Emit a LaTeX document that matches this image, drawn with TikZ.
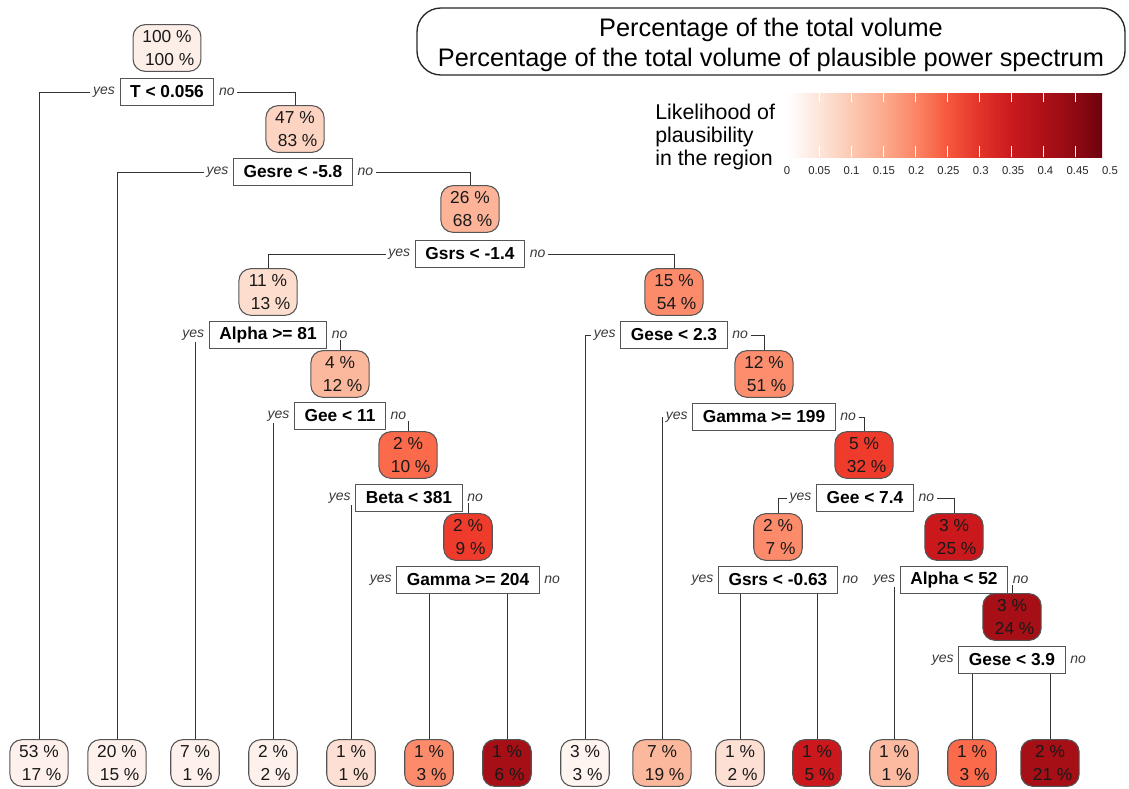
\documentclass[tikz,border=0pt]{standalone}
\usepackage{fontspec}
\setmainfont{Liberation Sans}
\usetikzlibrary{backgrounds}

% node fill colours (Reds scale)
\definecolor{rootc}{HTML}{FDEEE8}
\definecolor{nA}{HTML}{FCD4C1}
\definecolor{nB}{HTML}{FCB398}
\definecolor{nC}{HTML}{FDDDCD}
\definecolor{nD}{HTML}{FCB89C}
\definecolor{nE}{HTML}{FB6A4A}
\definecolor{nF}{HTML}{EF3B2C}
\definecolor{nG}{HTML}{FC8B6B}
\definecolor{nH}{HTML}{FC8D6D}
\definecolor{nI}{HTML}{CB181D}
\definecolor{nJ}{HTML}{A50F15}
\definecolor{lpale}{HTML}{FEF1EB}
\definecolor{lwhite}{HTML}{FFF5F0}
\definecolor{llight}{HTML}{FDE0D3}
\definecolor{lmid}{HTML}{FCBBA1}
\definecolor{edge}{HTML}{555555}
\definecolor{labgray}{HTML}{3A3A3A}

% colour scale of the legend bar
\definecolor{s0}{HTML}{FFFFFF}
\definecolor{s1}{HTML}{FDE5DA}
\definecolor{s2}{HTML}{FCC9B2}
\definecolor{s3}{HTML}{FCAA8D}
\definecolor{s4}{HTML}{FB8666}
\definecolor{s5}{HTML}{F6583E}
\definecolor{s6}{HTML}{E3342A}
\definecolor{s7}{HTML}{CB1A1E}
\definecolor{s8}{HTML}{AE1117}
\definecolor{s9}{HTML}{8F0A13}
\definecolor{s10}{HTML}{6D010E}
\pgfdeclarehorizontalshading{legendbar}{100bp}{%
  color(0bp)=(s0); color(26.2bp)=(s0); color(31.2bp)=(s1); color(36.1bp)=(s2);
  color(41.1bp)=(s3); color(46.1bp)=(s4); color(51bp)=(s5); color(56bp)=(s6);
  color(60.9bp)=(s7); color(65.9bp)=(s8); color(70.8bp)=(s9); color(75bp)=(s10);
  color(100bp)=(s10)}

\newcommand{\twopct}[2]{#1 \%\\\hspace*{2pt}#2 \%\hspace*{-2pt}}

\tikzset{
  tnode/.style={draw=edge, line width=0.8pt, fill=#1, rounded corners=9pt,
    align=center, font=\fontsize{13}{17}\selectfont, inner xsep=7pt,
    inner ysep=2pt, minimum height=35pt, text=black!90},
  splitbox/.style={draw=edge, line width=0.8pt, fill=white,
    font=\fontsize{13}{15}\selectfont\bfseries, inner xsep=7.5pt,
    inner ysep=2pt, minimum height=20pt},
  yeslab/.style={font=\fontsize{10.5}{12}\selectfont\itshape, text=labgray,
    fill=white, inner xsep=1.8pt, inner ysep=1pt, anchor=east},
  nolab/.style={font=\fontsize{10.5}{12}\selectfont\itshape, text=labgray,
    fill=white, inner xsep=1.8pt, inner ysep=1pt, anchor=west},
  branch/.style={draw=black!80, line width=0.75pt},
}

\begin{document}
\begin{tikzpicture}[x=0.75pt, y=-0.75pt]
\useasboundingbox (0,0) rectangle (1129,789);

% ---- internal nodes and splits ----
\node[tnode=rootc] (n1) at (167,48) {\twopct{100}{100}};
\node[splitbox] (s1) at (167,92) {T < 0.056};
\node[tnode=nA] (n2) at (295,129) {\twopct{47}{83}};
\node[splitbox] (s2) at (293,172) {Gesre < -5.8};
\node[tnode=nB] (n3) at (470,209) {\twopct{26}{68}};
\node[splitbox] (s3) at (470,254) {Gsrs < -1.4};
\node[tnode=nC] (n4) at (268,292) {\twopct{11}{13}};
\node[splitbox] (s4) at (268,335) {Alpha >= 81};
\node[tnode=nD] (n5) at (340,374) {\twopct{4}{12}};
\node[splitbox] (s5) at (340,416) {Gee < 11};
\node[tnode=nE] (n6) at (408,455) {\twopct{2}{10}};
\node[splitbox] (s6) at (409,498) {Beta < 381};
\node[tnode=nF] (n7) at (468,537) {\twopct{2}{9}};
\node[splitbox] (s7) at (468,580) {Gamma >= 204};
\node[tnode=nG] (n8) at (674,292) {\twopct{15}{54}};
\node[splitbox] (s8) at (674,335) {Gese < 2.3};
\node[tnode=nH] (n9) at (764,374) {\twopct{12}{51}};
\node[splitbox] (s9) at (764,417) {Gamma >= 199};
\node[tnode=nF] (n10) at (864,455) {\twopct{5}{32}};
\node[splitbox] (s10) at (865,498) {Gee < 7.4};
\node[tnode=nG] (n11) at (778,537) {\twopct{2}{7}};
\node[splitbox] (s11) at (778,580) {Gsrs < -0.63};
\node[tnode=nI] (n12) at (954,537) {\twopct{3}{25}};
\node[splitbox] (s12) at (954,580) {Alpha < 52};
\node[tnode=nJ] (n13) at (1012,617) {\twopct{3}{24}};
\node[splitbox] (s13) at (1012,660) {Gese < 3.9};

% ---- leaves ----
\node[tnode=lpale]  (L1)  at (39,763)   {\twopct{53}{17}};
\node[tnode=lpale]  (L2)  at (117,763)  {\twopct{20}{15}};
\node[tnode=lpale]  (L3)  at (195,763)  {\twopct{7}{1}};
\node[tnode=lpale]  (L4)  at (273,763)  {\twopct{2}{2}};
\node[tnode=llight] (L5)  at (351,763)  {\twopct{1}{1}};
\node[tnode=nG]     (L6)  at (429,763)  {\twopct{1}{3}};
\node[tnode=nJ]     (L7)  at (507,763)  {\twopct{1}{6}};
\node[tnode=lwhite] (L8)  at (585,763)  {\twopct{3}{3}};
\node[tnode=nD]     (L9)  at (662,763)  {\twopct{7}{19}};
\node[tnode=llight] (L10) at (740,763)  {\twopct{1}{2}};
\node[tnode=nI]     (L11) at (817,763)  {\twopct{1}{5}};
\node[tnode=lmid]   (L12) at (894,763)  {\twopct{1}{1}};
\node[tnode=nE]     (L13) at (972,763)  {\twopct{1}{3}};
\node[tnode=nJ]     (L14) at (1050,763) {\twopct{2}{21}};

% ---- yes / no labels ----
\foreach \s in {1,...,13}{
  \node[yeslab] (y\s) at ([xshift=-1.5pt]s\s.west) {yes};
  \node[nolab]  (o\s) at ([xshift=1.5pt]s\s.east) {no};
}

% ---- branches ----
\begin{scope}[on background layer]
  % branches that run sideways before dropping
  \draw[branch] (y1.west) -| (L1.north);
  \draw[branch] (o1.east) -| (n2.north);
  \draw[branch] (y2.west) -| (L2.north);
  \draw[branch] (o2.east) -| (n3.north);
  \draw[branch] (y3.west) -| (n4.north);
  \draw[branch] (o3.east) -| (n8.north);
  \draw[branch] (y8.west) -| (L8.north);
  \draw[branch] (o8.east) -| (n9.north);
  \draw[branch] (y9.west) -| (L9.north);
  \draw[branch] (o9.east) -| (n10.north);
  \draw[branch] (y10.west) -| (n11.north);
  \draw[branch] (o10.east) -| (n12.north);
  % branches dropping straight from a label
  \draw[branch] (y4.south -| L3.north) -- (L3.north);
  \draw[branch] (o4.south -| n5.north) -- (n5.north);
  \draw[branch] (y5.south -| L4.north) -- (L4.north);
  \draw[branch] (o5.south -| n6.north) -- (n6.north);
  \draw[branch] (y6.south -| L5.north) -- (L5.north);
  \draw[branch] (o6.south -| n7.north) -- (n7.north);
  \draw[branch] (y12.south -| L12.north) -- (L12.north);
  \draw[branch] (o12.south -| n13.north) -- (n13.north);
  % branches dropping straight from a split box
  \draw[branch] (s7.south -| L6.north) -- (L6.north);
  \draw[branch] (s7.south -| L7.north) -- (L7.north);
  \draw[branch] (s11.south -| L10.north) -- (L10.north);
  \draw[branch] (s11.south -| L11.north) -- (L11.north);
  \draw[branch] (s13.south -| L13.north) -- (L13.north);
  \draw[branch] (s13.south -| L14.north) -- (L14.north);
\end{scope}

% ---- title box ----
\node[draw=black!85, line width=1pt, rounded corners=18pt,
  minimum width=531pt, minimum height=50.25pt] (title) at (771,41.5) {};
\node[font=\fontsize{19}{22.5}\selectfont, align=center, inner sep=0pt]
  (titletext) at (771,45)
  {Percentage of the total volume\\Percentage of the total volume of plausible power spectrum};

% ---- legend ----
\node[anchor=west, align=left, inner sep=0pt,
  font=\fontsize{16}{17.4}\selectfont] (legtxt) at (655,137)
  {Likelihood of\\plausibility\\in the region};
\shade[shading=legendbar] (779,93) rectangle (1102,157);
\foreach \v in {1,...,9}{
  \draw[white, line width=0.75pt] ({787+32*\v},93) -- ++(0,9);
  \draw[white, line width=0.75pt] ({787+32*\v},157) -- ++(0,-11);
}
\foreach \v/\t in {0/0,1/0.05,2/0.1,3/0.15,4/0.2,5/0.25,6/0.3,7/0.35,8/0.4,9/0.45,10/0.5}{
  \node[font=\fontsize{8.5}{10}\selectfont, text=black!85, inner sep=0pt]
    (tk\v) at ({787+32.3*\v},171) {\t};
}
\end{tikzpicture}
\end{document}
